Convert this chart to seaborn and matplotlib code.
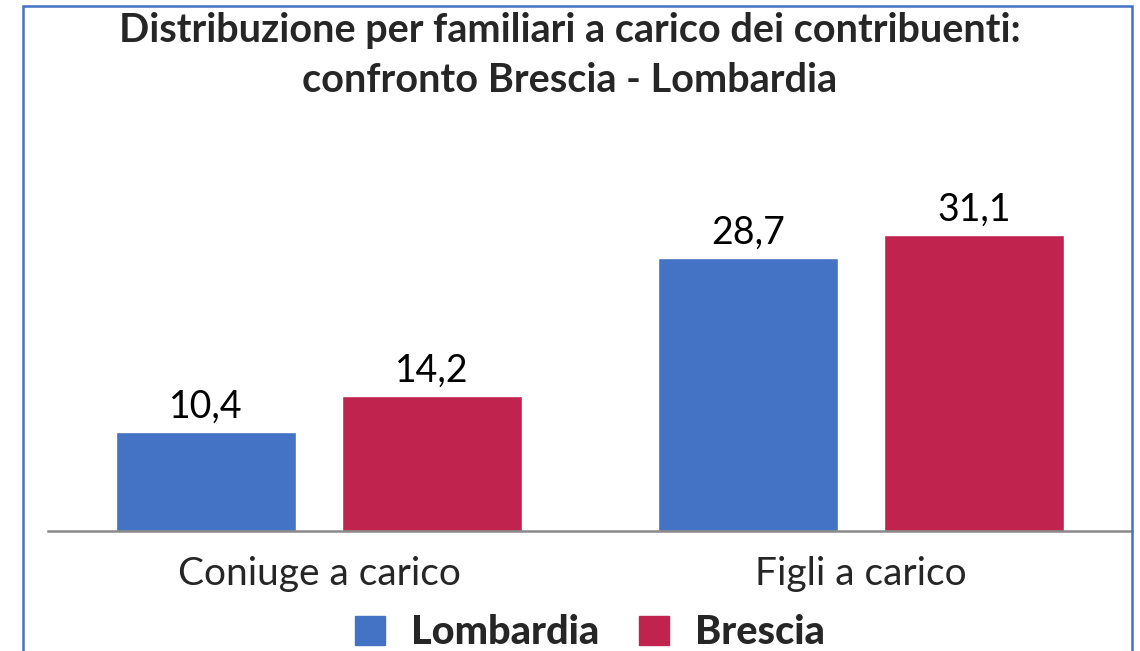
import pandas as pd
import seaborn as sns
import matplotlib.pyplot as plt
from matplotlib.patches import Rectangle

# --- Dati ---
categorie = ["Coniuge a carico", "Figli a carico"]
lombardia = [10.4, 28.7]
brescia = [14.2, 31.1]
serie = ["Lombardia", "Brescia"]
colori = ["#4472C4", "#C0234E"]
titolo = "Distribuzione per familiari a carico dei contribuenti:\nconfronto Brescia - Lombardia"

df = pd.DataFrame({
    "categoria": categorie * 2,
    "valore": lombardia + brescia,
    "area": [serie[0]] * len(categorie) + [serie[1]] * len(categorie),
})

sns.set_theme(style="white")
plt.rcParams['font.family'] = ['Lato', 'DejaVu Sans']

fig = plt.figure(figsize=(11.4, 6.51), dpi=100)
ax = fig.add_axes([48 / 1140, 120 / 651, 1084 / 1140, 333 / 651])

sns.barplot(data=df, x="categoria", y="valore", hue="area", palette=colori,
            width=0.833, gap=0.205, ax=ax, legend=False, saturation=1)

# etichette dati con la virgola decimale
for cont in ax.containers:
    labels = [f"{v:.1f}".replace(".", ",") for v in cont.datavalues]
    ax.bar_label(cont, labels=labels, padding=5, fontsize=27, color="black")

ax.set_ylim(0, 35)
ax.set_xlim(-0.5, 1.5)
ax.set_xlabel("")
ax.set_ylabel("")
ax.set_yticks([])
ax.tick_params(axis="x", length=0, labelsize=28, pad=18)
for s in ["top", "right", "left"]:
    ax.spines[s].set_visible(False)
ax.spines["bottom"].set_color("#898989")
ax.spines["bottom"].set_linewidth(1.8)

fig.text(0.5, 1 - 12 / 651, titolo, ha="center", va="top", fontsize=28.5,
         fontweight="bold", linespacing=1.45)

# legenda in basso
handles = [Rectangle((0, 0), 1, 1, color=c) for c in colori]
fig.legend(handles, serie, loc="center", bbox_to_anchor=(590 / 1140, 18 / 651),
           ncol=2, frameon=False, prop={"size": 28.5, "weight": "black"},
           handlelength=0.76, handleheight=0.76, columnspacing=1.0, handletextpad=0.65)

# bordo blu
fig.patches.append(Rectangle((23 / 1140, -0.05), (1132 - 23) / 1140, 1.05 - 6 / 651,
                             transform=fig.transFigure, fill=False,
                             edgecolor="#4472C4", linewidth=1.8))

plt.savefig("out.png", dpi=100)
plt.close()
